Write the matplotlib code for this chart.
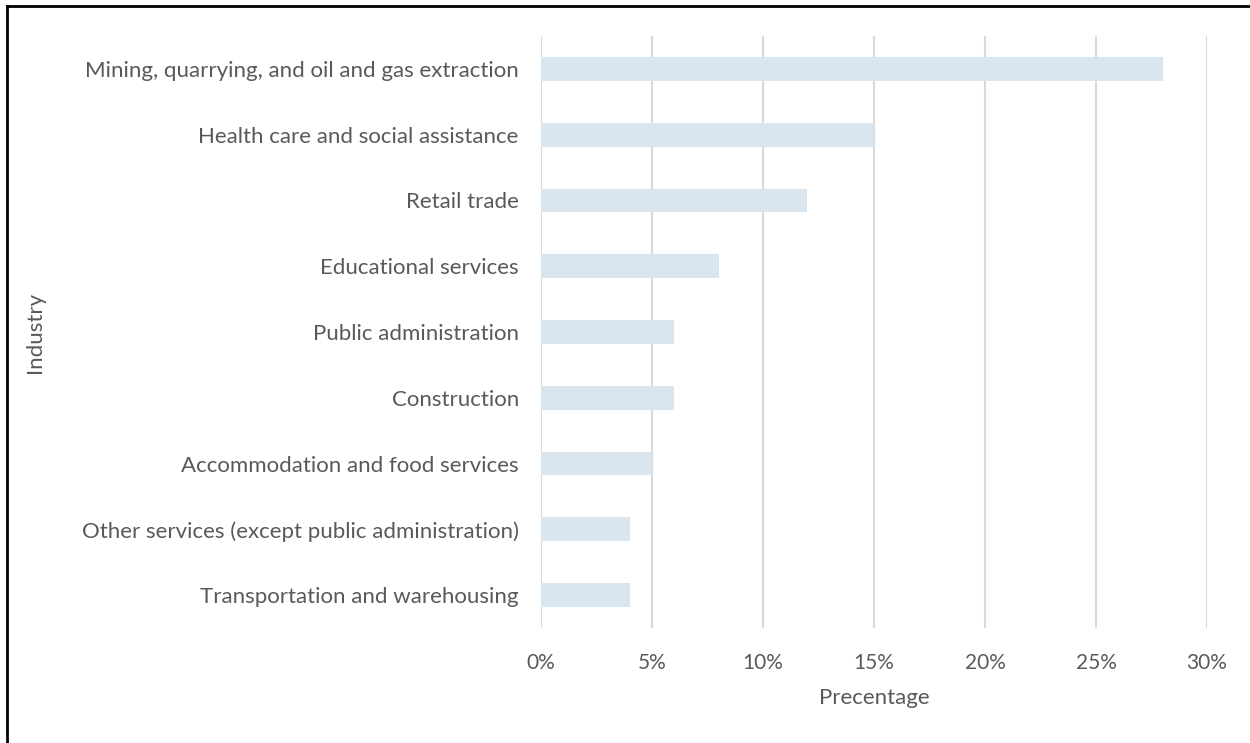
import matplotlib.pyplot as plt
from matplotlib.lines import Line2D
from matplotlib.ticker import PercentFormatter

industries = ['Mining, quarrying, and oil and gas extraction',
              'Health care and social assistance',
              'Retail trade',
              'Educational services',
              'Public administration',
              'Construction',
              'Accommodation and food services',
              'Other services (except public administration)',
              'Transportation and warehousing']
values = [28, 15, 12, 8, 6, 6, 5, 4, 4]
xticks = [0, 5, 10, 15, 20, 25, 30]

plt.rcParams['font.family'] = ['Lato', 'DejaVu Sans']
txt = '#595959'

fig = plt.figure(figsize=(12.5, 7.43), dpi=100)
ax = fig.add_axes([0.4328, 0.1548, 0.5328, 0.7967])

pos = list(range(len(industries)))[::-1]
ax.barh(pos, values, height=0.36, color='#D9E6F0', zorder=2)
ax.set_ylim(-0.5, len(industries) - 0.5)
ax.set_xlim(0, 30)
ax.set_xticks(xticks)
ax.xaxis.set_major_formatter(PercentFormatter(decimals=0))
ax.set_yticks(pos)
ax.set_yticklabels(industries)
ax.grid(axis='x', color='#D9D9D9', linewidth=1.5, zorder=0)
for s in ax.spines.values():
    s.set_visible(False)
ax.tick_params(axis='both', length=0, colors=txt)
ax.tick_params(axis='y', pad=16, labelsize=16)
ax.tick_params(axis='x', pad=18, labelsize=15)
ax.set_xlabel('Precentage', fontsize=16, color=txt, labelpad=11)
ax.set_ylabel('Industry', fontsize=16, color=txt)
ax.yaxis.set_label_coords(-0.745, 0.5)

# border on top and left
fig.add_artist(Line2D([0.0056, 0.0056], [0, 0.9915], transform=fig.transFigure, color='black', lw=2))
fig.add_artist(Line2D([0.0056, 1], [0.9915, 0.9915], transform=fig.transFigure, color='black', lw=2))

fig.savefig('out.png', dpi=100)
